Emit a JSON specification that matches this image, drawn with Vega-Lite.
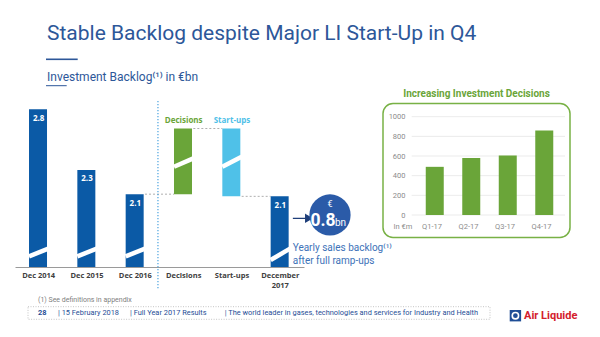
{
  "$schema": "https://vega.github.io/schema/vega-lite/v6.json",
  "width": 600,
  "height": 237,
  "autosize": {"type": "none"},
  "padding": {"top": 100, "left": 0, "right": 0, "bottom": 0},
  "background": "white",
  "config": {"view": {"stroke": null}, "font": "Roboto", "text": {"font": "Roboto"}},
  "title": {
    "text": "Stable Backlog despite Major LI Start-Up in Q4",
    "subtitle": "Investment Backlog⁽¹⁾ in €bn",
    "anchor": "start",
    "frame": "group",
    "dx": 47,
    "font": "Roboto",
    "fontSize": 21,
    "fontWeight": "normal",
    "color": "#2d5799",
    "subtitleFont": "Roboto",
    "subtitleFontSize": 12,
    "subtitleColor": "#2d5799",
    "subtitlePadding": 28,
    "offset": -24
  },
  "data": {"values": [{}]},
  "resolve": {"scale": {"x": "independent", "y": "independent", "color": "independent"}, "axis": {"x": "independent", "y": "independent"}},
  "layer": [
    {
      "layer": [
        {
          "data": {"values": [
            {"cat": "Dec 2014", "lo": 1.5, "hi": 2.8, "kind": "Backlog", "label": "2.8"},
            {"cat": "Dec 2015", "lo": 1.5, "hi": 2.3, "kind": "Backlog", "label": "2.3"},
            {"cat": "Dec 2016", "lo": 1.5, "hi": 2.1, "kind": "Backlog", "label": "2.1"},
            {"cat": "Decisions", "lo": 2.1, "hi": 2.641, "kind": "Decisions"},
            {"cat": "Start-ups", "lo": 2.082, "hi": 2.641, "kind": "Start-ups"},
            {"cat": "December 2017", "lo": 1.5, "hi": 2.082, "kind": "Backlog", "label": "2.1"}
          ]},
          "mark": {"type": "bar"},
          "encoding": {
            "x": {
              "field": "cat", "type": "nominal", "sort": null,
              "scale": {"domain": ["Dec 2014", "Dec 2015", "Dec 2016", "Decisions", "Start-ups", "December 2017"], "range": [15, 304], "paddingInner": 0.6, "paddingOuter": 0.29},
              "axis": {
                "orient": "bottom", "offset": -70, "title": null, "domainColor": "#9a9a9a", "domainWidth": 1,
                "ticks": false, "labelPadding": 4, "labelFontSize": 7.5, "labelFontWeight": "bold",
                "labelColor": "#404040", "labelFont": "Open Sans", "labelAngle": 0, "labelLineHeight": 10,
                "labelExpr": "datum.value == 'December 2017' ? ['December', '2017'] : datum.value"
              }
            },
            "y": {"field": "lo", "type": "quantitative", "scale": {"domain": [1.5, 2.8], "range": [167, 9.2], "zero": false, "nice": false}, "axis": null},
            "y2": {"field": "hi"},
            "color": {"field": "kind", "type": "nominal", "scale": {"domain": ["Backlog", "Decisions", "Start-ups"], "range": ["#0b5aa6", "#6aa539", "#4fc1e8"]}, "legend": null}
          }
        },
        {
          "data": {"values": [
            {"cat": "Dec 2014", "side": "L", "v": 1.588}, {"cat": "Dec 2014", "side": "R", "v": 1.651},
            {"cat": "Dec 2015", "side": "L", "v": 1.588}, {"cat": "Dec 2015", "side": "R", "v": 1.651},
            {"cat": "Dec 2016", "side": "L", "v": 1.588}, {"cat": "Dec 2016", "side": "R", "v": 1.651},
            {"cat": "Decisions", "side": "L", "v": 2.326}, {"cat": "Decisions", "side": "R", "v": 2.395},
            {"cat": "Start-ups", "side": "L", "v": 2.326}, {"cat": "Start-ups", "side": "R", "v": 2.409},
            {"cat": "December 2017", "side": "L", "v": 1.558}, {"cat": "December 2017", "side": "R", "v": 1.651}
          ]},
          "mark": {"type": "line", "color": "white", "strokeWidth": 4.5, "strokeCap": "butt"},
          "encoding": {
            "x": {"field": "cat", "type": "nominal", "sort": null},
            "xOffset": {"field": "side", "type": "nominal", "scale": {"type": "point", "padding": 0}},
            "y": {"field": "v", "type": "quantitative"},
            "detail": {"field": "cat"}
          }
        },
        {
          "data": {"values": [
            {"id": "a", "cat": "Dec 2016", "side": "R", "v": 2.1}, {"id": "a", "cat": "Decisions", "side": "L", "v": 2.1},
            {"id": "b", "cat": "Decisions", "side": "R", "v": 2.641}, {"id": "b", "cat": "Start-ups", "side": "L", "v": 2.641},
            {"id": "c", "cat": "Start-ups", "side": "R", "v": 2.082}, {"id": "c", "cat": "December 2017", "side": "L", "v": 2.082}
          ]},
          "mark": {"type": "line", "color": "#9a9a9a", "strokeWidth": 0.8, "strokeDash": [2, 2]},
          "encoding": {
            "x": {"field": "cat", "type": "nominal", "sort": null},
            "xOffset": {"field": "side", "type": "nominal", "scale": {"type": "point", "padding": 0}},
            "y": {"field": "v", "type": "quantitative"},
            "detail": {"field": "id"}
          }
        },
        {
          "mark": {"type": "rule", "color": "#4aa3df", "strokeWidth": 1.2, "strokeDash": [1.2, 1.8]},
          "encoding": {
            "x": {"datum": "Dec 2016", "type": "nominal", "bandPosition": 1.67},
            "y": {"datum": 2.867, "type": "quantitative"},
            "y2": {"datum": 1.31}
          }
        },
        {
          "data": {"values": [
            {"cat": "Dec 2014", "hi": 2.8, "label": "2.8"},
            {"cat": "Dec 2015", "hi": 2.3, "label": "2.3"},
            {"cat": "Dec 2016", "hi": 2.1, "label": "2.1"},
            {"cat": "December 2017", "hi": 2.082, "label": "2.1"}
          ]},
          "mark": {"type": "text", "color": "white", "font": "Open Sans", "fontWeight": "bold", "fontSize": 8, "baseline": "middle", "dy": 9.5},
          "encoding": {
            "x": {"field": "cat", "type": "nominal", "sort": null},
            "y": {"field": "hi", "type": "quantitative"},
            "text": {"field": "label"}
          }
        },
        {
          "data": {"values": [
            {"cat": "Decisions", "hi": 2.641, "kind": "Decisions"},
            {"cat": "Start-ups", "hi": 2.641, "kind": "Start-ups"}
          ]},
          "mark": {"type": "text", "font": "Open Sans", "fontWeight": "bold", "fontSize": 8, "baseline": "middle", "dy": -7.5},
          "encoding": {
            "x": {"field": "cat", "type": "nominal", "sort": null},
            "y": {"field": "hi", "type": "quantitative"},
            "text": {"field": "kind"},
            "color": {"field": "kind", "type": "nominal", "legend": null}
          }
        },
        {
          "mark": {"type": "point", "shape": "M -1 0 L 0.55 0 M 0.35 -0.38 L 1 0 L 0.35 0.38 Z", "filled": true, "color": "#1f3f7a", "stroke": "#1f3f7a", "strokeWidth": 1.3, "opacity": 1},
          "encoding": {
            "x": {"datum": "December 2017", "type": "nominal", "bandPosition": 1.64},
            "y": {"datum": 1.901, "type": "quantitative"},
            "size": {"value": 361}
          }
        },
        {
          "mark": {"type": "text", "text": ["Yearly sales backlog⁽¹⁾", "after full ramp-ups"], "color": "#3d72b8", "fontSize": 10, "lineHeight": 12.7, "baseline": "top", "align": "left"},
          "encoding": {
            "x": {"datum": "December 2017", "type": "nominal", "bandPosition": 1.14},
            "y": {"datum": 1.698, "type": "quantitative"}
          }
        }
      ]
    },
    {
      "layer": [
        {
          "mark": {"type": "rect", "fill": "white", "fillOpacity": 0, "stroke": "#78b145", "strokeWidth": 1.5, "cornerRadius": 10},
          "encoding": {
            "x": {"datum": 0, "type": "quantitative", "scale": {"domain": [0, 1], "range": [383, 570], "zero": false, "nice": false}, "axis": null},
            "x2": {"datum": 1},
            "y": {"datum": 0, "type": "quantitative", "scale": {"domain": [0, 1], "range": [137.5, 3.5], "zero": false, "nice": false}, "axis": null},
            "y2": {"datum": 1}
          }
        },
        {
          "mark": {"type": "text", "text": "Increasing Investment Decisions", "fontSize": 10, "fontWeight": "bold", "color": "#6aa539", "baseline": "alphabetic", "align": "center"},
          "encoding": {
            "x": {"datum": 0.5, "type": "quantitative"},
            "y": {"datum": 1.052, "type": "quantitative"}
          }
        },
        {
          "mark": {"type": "point", "shape": "circle", "filled": true, "color": "#2b5ba8", "opacity": 1},
          "encoding": {
            "x": {"datum": -0.2834, "type": "quantitative"},
            "y": {"datum": 0.168, "type": "quantitative"},
            "size": {"value": 1700}
          }
        },
        {
          "mark": {"type": "text", "text": "€", "color": "white", "fontSize": 9, "baseline": "middle", "align": "center"},
          "encoding": {
            "x": {"datum": -0.2834, "type": "quantitative"},
            "y": {"datum": 0.25, "type": "quantitative"}
          }
        },
        {
          "mark": {"type": "text", "text": "0.8", "color": "white", "fontSize": 17.5, "fontWeight": "bold", "baseline": "alphabetic", "align": "center", "dx": -7},
          "encoding": {
            "x": {"datum": -0.2834, "type": "quantitative"},
            "y": {"datum": 0.088, "type": "quantitative"}
          }
        },
        {
          "mark": {"type": "text", "text": "bn", "color": "white", "fontSize": 10, "baseline": "alphabetic", "align": "left", "dx": 5},
          "encoding": {
            "x": {"datum": -0.2834, "type": "quantitative"},
            "y": {"datum": 0.088, "type": "quantitative"}
          }
        }
      ]
    },
    {
      "resolve": {"scale": {"x": "independent"}, "axis": {"x": "independent"}},
      "layer": [
        {
          "data": {"values": [{"g": 0}, {"g": 200}, {"g": 400}, {"g": 600}, {"g": 800}, {"g": 1000}]},
          "mark": {"type": "rule", "color": "#e6e6e6", "strokeWidth": 0.8},
          "encoding": {
            "x": {"datum": 0, "type": "quantitative", "scale": {"domain": [0, 1], "range": [411.7, 565], "zero": false, "nice": false}, "axis": null},
            "x2": {"datum": 1},
            "y": {
              "field": "g", "type": "quantitative",
              "scale": {"domain": [0, 1000], "range": [115, 16.7], "nice": false},
              "axis": {
                "orient": "left", "offset": -407, "values": [0, 200, 400, 600, 800, 1000], "format": "d", "domain": false, "ticks": false, "grid": false,
                "labelPadding": 2, "labelColor": "#8c8c8c", "labelFontSize": 7.5, "labelFont": "Roboto",
                "title": "In €m", "titleAngle": 0, "titleX": -4.5, "titleY": 126, "titleAlign": "center", "titleBaseline": "middle",
                "titleFontWeight": "normal", "titleFontSize": 7.5, "titleColor": "#8c8c8c", "titleFont": "Roboto"
              }
            }
          }
        },
        {
          "data": {"values": [
            {"q": "Q1-17", "v": 490},
            {"q": "Q2-17", "v": 580},
            {"q": "Q3-17", "v": 605},
            {"q": "Q4-17", "v": 860}
          ]},
          "mark": {"type": "bar", "color": "#6aa539"},
          "encoding": {
            "x": {
              "field": "q", "type": "nominal", "sort": null,
              "scale": {"range": [407.5, 566], "paddingInner": 0.658, "paddingOuter": 0.5},
              "axis": {"orient": "bottom", "offset": -122, "title": null, "domain": false, "ticks": false, "labelPadding": 7, "labelColor": "#8c8c8c", "labelFontSize": 7.5, "labelFont": "Roboto", "labelAngle": 0}
            },
            "y": {"field": "v", "type": "quantitative"}
          }
        }
      ]
    },
    {
      "layer": [
        {
          "mark": {"type": "rect", "fill": "white", "fillOpacity": 0, "stroke": "#b5b5b5", "strokeWidth": 0.8, "strokeDash": [1, 1.5]},
          "encoding": {
            "x": {"datum": 0, "type": "quantitative", "scale": {"domain": [0, 1], "range": [28, 490], "zero": false, "nice": false}, "axis": null},
            "x2": {"datum": 1},
            "y": {"datum": 0, "type": "quantitative", "scale": {"domain": [0, 1], "range": [219.3, 206.7], "zero": false, "nice": false}, "axis": null},
            "y2": {"datum": 1}
          }
        },
        {
          "mark": {"type": "text", "text": "(1)  See definitions in appendix", "fontSize": 7, "color": "#808080", "baseline": "middle", "align": "left"},
          "encoding": {"x": {"datum": 0.0216, "type": "quantitative"}, "y": {"datum": 1.53, "type": "quantitative"}}
        },
        {
          "mark": {"type": "text", "text": "28", "fontSize": 7.4, "fontWeight": "bold", "color": "#1f4e96", "baseline": "middle", "align": "left"},
          "encoding": {"x": {"datum": 0.0216, "type": "quantitative"}, "y": {"datum": 0.5, "type": "quantitative"}}
        },
        {
          "mark": {"type": "text", "text": "|   15 February 2018", "fontSize": 7.4, "color": "#1f4e96", "baseline": "middle", "align": "left"},
          "encoding": {"x": {"datum": 0.065, "type": "quantitative"}, "y": {"datum": 0.5, "type": "quantitative"}}
        },
        {
          "mark": {"type": "text", "text": "|      Full Year 2017 Results", "fontSize": 7.4, "color": "#1f4e96", "baseline": "middle", "align": "left"},
          "encoding": {"x": {"datum": 0.221, "type": "quantitative"}, "y": {"datum": 0.5, "type": "quantitative"}}
        },
        {
          "mark": {"type": "text", "text": "|  The world leader in gases, technologies and services for Industry and Health", "fontSize": 7.4, "color": "#1f4e96", "baseline": "middle", "align": "left"},
          "encoding": {"x": {"datum": 0.426, "type": "quantitative"}, "y": {"datum": 0.5, "type": "quantitative"}}
        },
        {
          "mark": {"type": "point", "shape": "square", "filled": true, "color": "#1f4e96", "opacity": 1},
          "encoding": {"x": {"datum": 1.055, "type": "quantitative"}, "y": {"datum": 0.286, "type": "quantitative"}, "size": {"value": 130}}
        },
        {
          "mark": {"type": "point", "shape": "circle", "filled": false, "color": "white", "strokeWidth": 1.6, "opacity": 1},
          "encoding": {"x": {"datum": 1.055, "type": "quantitative"}, "y": {"datum": 0.286, "type": "quantitative"}, "size": {"value": 40}}
        },
        {
          "mark": {"type": "text", "text": "Air Liquide", "fontSize": 11, "fontWeight": "bold", "color": "#d4202c", "baseline": "middle", "align": "left"},
          "encoding": {"x": {"datum": 1.0736, "type": "quantitative"}, "y": {"datum": 0.286, "type": "quantitative"}}
        }
      ]
    },
    {
      "layer": [
        {
          "mark": {"type": "rule", "color": "#2d5799", "strokeWidth": 1.6},
          "encoding": {
            "x": {"datum": 0, "type": "quantitative", "scale": {"domain": [0, 1], "range": [46, 77.7], "zero": false, "nice": false}, "axis": null},
            "x2": {"datum": 1},
            "y": {"datum": 0, "type": "quantitative", "scale": {"domain": [0, 1], "range": [-40.7, -14.3], "zero": false, "nice": false}, "axis": null}
          }
        },
        {
          "mark": {"type": "rule", "color": "#2d5799", "strokeWidth": 1},
          "encoding": {
            "x": {"datum": 0, "type": "quantitative"},
            "x2": {"datum": 0.653},
            "y": {"datum": 1, "type": "quantitative"}
          }
        }
      ]
    }
  ]
}
